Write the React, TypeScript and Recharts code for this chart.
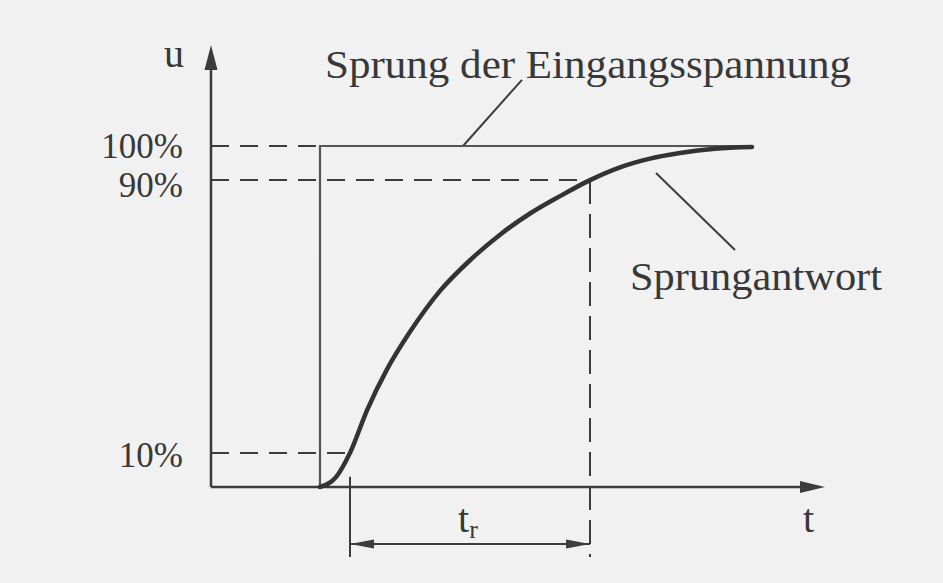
import { LineChart, Line, XAxis, YAxis, ReferenceLine, ReferenceDot } from "recharts";

// step response of the output voltage (t in arbitrary time units, u in %)
const responseT = [0, 1.6, 3, 4.7, 6.7, 9, 12, 15, 18, 21, 24, 27, 30, 33, 36, 39.5, 43.2];
const responseU = [0, 2.9, 10, 22.5, 34.5, 45.5, 57.5, 66.5, 74, 80.2, 85.3, 90, 93.75, 96.3, 97.95, 99.2, 99.7];

// ideal input step
const stepT = [0, 0, 43.2];
const stepU = [0, 100, 100];

// level markers on the u axis
const levelValues = [100, 90, 10];
const levelLabels = ["100%", "90%", "10%"];
const levelLabelShift = [12, 17, 14];

// rise time t_r between the 10% and 90% crossings
const riseStart = 3;
const riseEnd = 27;

const axisT = -10.9;
const axisTEnd = 50.5;
const axisUEnd = 129.6;
const dimU = -16.7;
const dimBottom = -20.5;

const response = responseT.map((t, i) => ({ t, u: responseU[i] }));
const step = stepT.map((t, i) => ({ t, u: stepU[i] }));
const levelEnds = [0, riseEnd, riseStart];

const ink = "#3c3c3c";
const fontFamily = '"Liberation Serif", "DejaVu Serif", serif';
const textStyle = { fill: "#383838", fontFamily, fontSize: 40 };

type Dir = "up" | "right" | "left";

const arrow = (dir: Dir, len: number, half: number) => (p: any) => {
  const { cx, cy } = p;
  let d = "";
  if (dir === "up") d = `M${cx},${cy} L${cx - half},${cy + len} L${cx + half},${cy + len} Z`;
  if (dir === "right") d = `M${cx},${cy} L${cx - len},${cy - half} L${cx - len},${cy + half} Z`;
  if (dir === "left") d = `M${cx},${cy} L${cx + len},${cy - half} L${cx + len},${cy + half} Z`;
  return <path d={d} fill={ink} />;
};

const label =
  (
    text: string,
    dx: number,
    dy: number,
    anchor: "start" | "end" | "middle" = "start",
    width?: number,
    size = 40,
  ) =>
  (p: any) => (
    <text
      x={p.cx + dx}
      y={p.cy + dy}
      textAnchor={anchor}
      textLength={width}
      lengthAdjust={width ? "spacingAndGlyphs" : undefined}
      style={{ ...textStyle, fontSize: size }}
    >
      {text}
    </text>
  );

const riseLabel = (p: any) => (
  <text x={p.cx} y={p.cy} textAnchor="middle" style={textStyle}>
    t
    <tspan dy={6} fontSize={26}>r</tspan>
  </text>
);

export default function App() {
  return (
    <div
      style={{
        position: "absolute",
        left: 0,
        top: 0,
        width: 943,
        height: 583,
        background: "#f1f1f1",
      }}
    >
      <LineChart width={943} height={583} margin={{ top: 43.7, right: 23, bottom: 10.75, left: 70 }}>
        <XAxis type="number" dataKey="t" domain={[-25, 60]} allowDataOverflow hide />
        <YAxis type="number" dataKey="u" domain={[-25, 130]} allowDataOverflow hide />

        {/* axes */}
        <ReferenceLine segment={[{ x: axisT, y: 0 }, { x: axisTEnd - 1, y: 0 }]} stroke={ink} strokeWidth={2.5} />
        <ReferenceLine segment={[{ x: axisT, y: 0 }, { x: axisT, y: axisUEnd - 2 }]} stroke={ink} strokeWidth={2.5} />
        <ReferenceDot x={axisTEnd} y={0} shape={arrow("right", 25, 6)} />
        <ReferenceDot x={axisT} y={axisUEnd} shape={arrow("up", 25, 6.5)} />

        {/* level guides */}
        {levelValues.map((v, i) => (
          <ReferenceLine
            key={levelLabels[i]}
            segment={[{ x: axisT, y: v }, { x: levelEnds[i], y: v }]}
            stroke={ink}
            strokeWidth={2}
            strokeDasharray="18 11"
          />
        ))}
        {levelValues.map((v, i) => (
          <ReferenceDot
            key={"l" + levelLabels[i]}
            x={axisT}
            y={v}
            shape={label(levelLabels[i], -28, levelLabelShift[i], "end", undefined, 35)}
          />
        ))}

        {/* rise time dimension */}
        <ReferenceLine
          segment={[{ x: riseEnd, y: 90 }, { x: riseEnd, y: dimBottom }]}
          stroke={ink}
          strokeWidth={2}
          strokeDasharray="24 10"
        />
        <ReferenceLine segment={[{ x: riseStart, y: 3 }, { x: riseStart, y: dimBottom }]} stroke={ink} strokeWidth={2} />
        <ReferenceLine segment={[{ x: riseStart, y: dimU }, { x: riseEnd, y: dimU }]} stroke={ink} strokeWidth={2} />
        <ReferenceDot x={riseStart} y={dimU} shape={arrow("left", 24, 4.5)} />
        <ReferenceDot x={riseEnd} y={dimU} shape={arrow("right", 24, 4.5)} />
        <ReferenceDot x={(riseStart + riseEnd) / 2 - 0.2} y={-13.2} shape={riseLabel} />

        {/* leaders */}
        <ReferenceLine segment={[{ x: 14.3, y: 100 }, { x: 20.2, y: 119.4 }]} stroke={ink} strokeWidth={2} />
        <ReferenceLine segment={[{ x: 33.6, y: 92.1 }, { x: 41.5, y: 69.5 }]} stroke={ink} strokeWidth={2} />

        <Line
          data={step}
          dataKey="u"
          type="linear"
          stroke="#555"
          strokeWidth={2.2}
          dot={false}
          isAnimationActive={false}
        />
        <Line
          data={response}
          dataKey="u"
          type="monotone"
          stroke="#333"
          strokeWidth={4.5}
          strokeLinecap="round"
          dot={false}
          isAnimationActive={false}
        />

        {/* text */}
        <ReferenceDot x={axisT} y={axisUEnd} shape={label("u", -27, 22, "end")} />
        <ReferenceDot x={axisTEnd} y={0} shape={label("t", -22, 45)} />
        <ReferenceDot x={0.5} y={119.9} shape={label("Sprung der Eingangsspannung", 0, 0, "start", 526)} />
        <ReferenceDot x={31} y={57.8} shape={label("Sprungantwort", 0, 0, "start", 252)} />
      </LineChart>
    </div>
  );
}
